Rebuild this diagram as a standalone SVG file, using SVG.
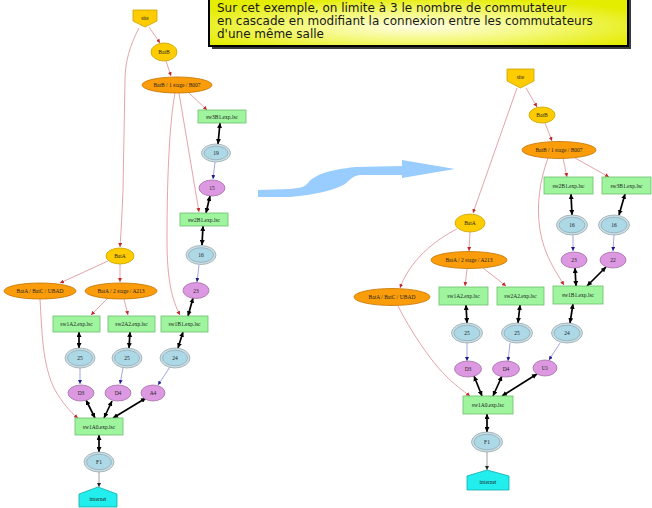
<svg xmlns="http://www.w3.org/2000/svg" width="652" height="508" viewBox="0 0 652 508">
<defs>
<radialGradient id="boxg" cx="50%" cy="60%" r="60%" fx="50%" fy="60%">
<stop offset="0" stop-color="#ffffe6"/>
<stop offset="0.5" stop-color="#f4f87a"/>
<stop offset="1" stop-color="#e4ec00"/>
</radialGradient>
<marker id="mr" viewBox="0 0 10 10" refX="10" refY="5" markerWidth="4" markerHeight="4" markerUnits="userSpaceOnUse" orient="auto"><path d="M0,0L10,5L0,10z" fill="#c02828"/></marker>
<marker id="mb" viewBox="0 0 10 10" refX="10" refY="5" markerWidth="4" markerHeight="4" markerUnits="userSpaceOnUse" orient="auto"><path d="M0,0L10,5L0,10z" fill="#1a1a90"/></marker>
<marker id="mk" viewBox="0 0 10 10" refX="10" refY="5" markerWidth="5" markerHeight="5" markerUnits="userSpaceOnUse" orient="auto-start-reverse"><path d="M0,0L10,5L0,10z" fill="#000"/></marker>
<marker id="mg" viewBox="0 0 10 10" refX="10" refY="5" markerWidth="4" markerHeight="4" markerUnits="userSpaceOnUse" orient="auto"><path d="M0,0L10,5L0,10z" fill="#222"/></marker>
</defs>
<style>
.pk{fill:none;stroke:#e09aa0;stroke-width:0.9;marker-end:url(#mr)}
.bl{fill:none;stroke:#8c8cdc;stroke-width:0.8;marker-end:url(#mb)}
.bk{fill:none;stroke:#000;stroke-width:1.7;marker-end:url(#mk);marker-start:url(#mk)}
.gy{fill:none;stroke:#888;stroke-width:0.8;marker-end:url(#mg)}
.yel{fill:#ffcc00;stroke:#c9a200;stroke-width:0.8}
.org{fill:#fb9d0a;stroke:#c47400;stroke-width:0.8}
.grn{fill:#9ef59e;stroke:#6cbf6c;stroke-width:0.8}
.bo{fill:#c9dfe8;stroke:#9aa;stroke-width:0.8}
.bi{fill:#add8e6;stroke:#8a9aa6;stroke-width:0.6}
.pur{fill:#dc98e0;stroke:#a472a8;stroke-width:0.8}
.cy{fill:#22eeee;stroke:#11aaaa;stroke-width:0.8}
.t{font-family:"Liberation Serif",serif;font-size:5.5px;fill:#222;text-anchor:middle;dominant-baseline:central}
.note{font-family:"DejaVu Sans",sans-serif;font-size:12px;fill:#1a1a1a}
</style>
<rect width="652" height="508" fill="#fff"/>

<g id="note">
<rect x="212" y="0" width="419" height="49" fill="#3a3a3a"/>
<rect x="209" y="-3" width="419" height="49" fill="url(#boxg)" stroke="#000" stroke-width="2"/>
<text class="note" x="217" y="12">Sur cet exemple, on limite à 3 le nombre de commutateur</text>
<text class="note" x="217" y="25">en cascade en modifiant la connexion entre les commutateurs</text>
<text class="note" x="217" y="38">d'une même salle</text>
</g>

<g id="bigarrow">
<path d="M258,190 L290,189 C300,188 305,187 308,183 C315,174 330,170 355,167 L402,166 L402,160 L455,169 L402,178 L402,175 L360,175 C352,176 350,180 345,184 C335,190 315,195 290,197 L258,197 Z" fill="#99ccff"/>
</g>

<g id="connectors">
<path class="pk" d="M139,28 C130,45 125,62 125,80 L123,190 C122,215 121,232 120,247"/>
<path class="pk" d="M149,27 L160,43"/>
<path class="pk" d="M166,61 L171,76"/>
<path class="pk" d="M188,92 L207,110"/>
<path class="pk" d="M179,93 L199,212"/>
<path class="pk" d="M175,93 C170,120 167,170 167,240 C167,280 172,300 180,315"/>
<path class="pk" d="M108,261 L60,283"/>
<path class="pk" d="M120,264 L120,282"/>
<path class="pk" d="M108,298 L91,315"/>
<path class="pk" d="M124,299 L128,315"/>
<path class="pk" d="M40,299 C42,330 42,365 55,390 C62,402 70,412 78,418"/>
<path class="bl" d="M215,162 L213,179"/>
<path class="bl" d="M199,265 L197,282"/>
<path class="bl" d="M170,367 L158,385"/>
<path class="bl" d="M80,368 L80,384"/>
<path class="bl" d="M123,368 L120,384"/>
<path class="bk" d="M220,123 L218,144"/>
<path class="bk" d="M210,196 L206,213"/>
<path class="bk" d="M203,226 L202,245"/>
<path class="bk" d="M193,298 L188,316"/>
<path class="bk" d="M183,332 L178,348"/>
<path class="bk" d="M79,332 L79,348"/>
<path class="bk" d="M130,332 L129,348"/>
<path class="bk" d="M86,400 L95,418"/>
<path class="bk" d="M112,401 L104,418"/>
<path class="bk" d="M146,398 L113,418"/>
<path class="bk" d="M99,435 L99,452"/>
<path class="gy" d="M99,472 L99,487"/>

<path class="pk" d="M517,88 L473,213"/>
<path class="pk" d="M526,88 L537,107"/>
<path class="pk" d="M545,123 L552,141"/>
<path class="pk" d="M563,158 L567,177"/>
<path class="pk" d="M575,158 L609,177"/>
<path class="pk" d="M548,158 C540,180 536,205 540,230 C544,255 556,272 564,285"/>
<path class="pk" d="M470,232 L469,251"/>
<path class="pk" d="M457,229 C435,240 410,260 400,288"/>
<path class="pk" d="M467,269 L465,286"/>
<path class="pk" d="M483,268 L506,286"/>
<path class="pk" d="M398,306 C410,330 430,360 445,375 C455,385 462,390 470,396"/>
<path class="bl" d="M573,235 L573,251"/>
<path class="bl" d="M614,235 L613,251"/>
<path class="bl" d="M467,343 L467,361"/>
<path class="bl" d="M510,343 L508,361"/>
<path class="bl" d="M560,343 L549,360"/>
<path class="bk" d="M571,194 L572,215"/>
<path class="bk" d="M625,194 L619,215"/>
<path class="bk" d="M575,268 L576,286"/>
<path class="bk" d="M606,267 L587,286"/>
<path class="bk" d="M573,304 L570,323"/>
<path class="bk" d="M466,305 L467,323"/>
<path class="bk" d="M520,305 L518,323"/>
<path class="bk" d="M474,376 L482,396"/>
<path class="bk" d="M502,376 L493,396"/>
<path class="bk" d="M537,374 L502,396"/>
<path class="bk" d="M487,414 L487,432"/>
<path class="gy" d="M487,452 L487,470"/>
</g>

<!-- Left graph -->
<g id="L_site"><polygon class="yel" points="133,10 157,10 157,21 145,27 133,21"/><text class="t" x="145" y="18">site</text></g>
<g id="L_BatB"><ellipse class="yel" cx="164" cy="52" rx="13" ry="9"/><text class="t" x="164" y="52">BatB</text></g>
<g id="L_BatB1"><ellipse class="org" cx="177" cy="85" rx="35" ry="8"/><text class="t" x="177" y="85">BatB / 1 stage / B007</text></g>
<g id="L_sw3B1"><rect class="grn" x="198" y="110" width="48" height="13"/><text class="t" x="222" y="116.5">sw3B1.exp.lsc</text></g>
<g id="L_19"><ellipse class="bo" cx="216" cy="153" rx="14.5" ry="9"/><ellipse class="bi" cx="216" cy="153" rx="12" ry="6.8"/><text class="t" x="216" y="153">19</text></g>
<g id="L_15"><ellipse class="pur" cx="212" cy="188" rx="13" ry="8"/><text class="t" x="212" y="188">15</text></g>
<g id="L_sw2B1"><rect class="grn" x="180" y="213" width="48" height="13"/><text class="t" x="204" y="219.5">sw2B1.exp.lsc</text></g>
<g id="L_16"><ellipse class="bo" cx="201" cy="255" rx="15" ry="9.5"/><ellipse class="bi" cx="201" cy="255" rx="12.5" ry="7.3"/><text class="t" x="201" y="255">16</text></g>
<g id="L_23"><ellipse class="pur" cx="196" cy="290.5" rx="13" ry="8"/><text class="t" x="196" y="290.5">23</text></g>
<g id="L_sw1B1"><rect class="grn" x="161" y="316" width="47" height="16"/><text class="t" x="184.5" y="324">sw1B1.exp.lsc</text></g>
<g id="L_24"><ellipse class="bo" cx="175" cy="358" rx="15" ry="10"/><ellipse class="bi" cx="175" cy="358" rx="12.5" ry="7.8"/><text class="t" x="175" y="358">24</text></g>
<g id="L_BatA"><ellipse class="yel" cx="120" cy="256" rx="14" ry="8"/><text class="t" x="120" y="256">BatA</text></g>
<g id="L_UBAD"><ellipse class="org" cx="40" cy="291" rx="36" ry="8"/><text class="t" x="40" y="291">BatA / BatC / UBAD</text></g>
<g id="L_BatA2"><ellipse class="org" cx="121" cy="291" rx="36" ry="8"/><text class="t" x="121" y="291">BatA / 2 stage / A213</text></g>
<g id="L_sw1A2"><rect class="grn" x="53" y="316" width="47" height="16"/><text class="t" x="76.5" y="324">sw1A2.exp.lsc</text></g>
<g id="L_sw2A2"><rect class="grn" x="108" y="316" width="47" height="16"/><text class="t" x="131.5" y="324">sw2A2.exp.lsc</text></g>
<g id="L_25a"><ellipse class="bo" cx="80" cy="358" rx="15" ry="10"/><ellipse class="bi" cx="80" cy="358" rx="12.5" ry="7.8"/><text class="t" x="80" y="358">25</text></g>
<g id="L_25b"><ellipse class="bo" cx="127" cy="358" rx="15" ry="10"/><ellipse class="bi" cx="127" cy="358" rx="12.5" ry="7.8"/><text class="t" x="127" y="358">25</text></g>
<g id="L_D3"><ellipse class="pur" cx="81" cy="393" rx="13" ry="8"/><text class="t" x="81" y="393">D3</text></g>
<g id="L_D4"><ellipse class="pur" cx="118" cy="393" rx="13" ry="8"/><text class="t" x="118" y="393">D4</text></g>
<g id="L_A4"><ellipse class="pur" cx="153" cy="393" rx="12" ry="8"/><text class="t" x="153" y="393">A4</text></g>
<g id="L_sw1A0"><rect class="grn" x="75" y="418" width="48" height="17"/><text class="t" x="99" y="426.5">sw1A0.exp.lsc</text></g>
<g id="L_F1"><ellipse class="bo" cx="99" cy="462" rx="15" ry="10"/><ellipse class="bi" cx="99" cy="462" rx="12.5" ry="7.8"/><text class="t" x="99" y="462">F1</text></g>
<g id="L_internet"><polygon class="cy" points="79,507 79,494 98,487 117,494 117,507"/><text class="t" x="98" y="499">internet</text></g>

<!-- Right graph -->
<g id="R_site"><polygon class="yel" points="507,69 534,69 534,81 520.5,88 507,81"/><text class="t" x="520.5" y="77">site</text></g>
<g id="R_BatB"><ellipse class="yel" cx="542" cy="115" rx="13" ry="8"/><text class="t" x="542" y="115">BatB</text></g>
<g id="R_BatB1"><ellipse class="org" cx="559" cy="150" rx="37" ry="8.5"/><text class="t" x="559" y="150">BatB / 1 stage / B007</text></g>
<g id="R_sw2B1"><rect class="grn" x="544" y="177" width="49" height="17"/><text class="t" x="568.5" y="185.5">sw2B1.exp.lsc</text></g>
<g id="R_sw3B1"><rect class="grn" x="602" y="177" width="49" height="17"/><text class="t" x="626.5" y="185.5">sw3B1.exp.lsc</text></g>
<g id="R_16a"><ellipse class="bo" cx="572" cy="225" rx="15.5" ry="10"/><ellipse class="bi" cx="572" cy="225" rx="13" ry="7.8"/><text class="t" x="572" y="225">16</text></g>
<g id="R_16b"><ellipse class="bo" cx="614" cy="225" rx="15.5" ry="10"/><ellipse class="bi" cx="614" cy="225" rx="13" ry="7.8"/><text class="t" x="614" y="225">16</text></g>
<g id="R_23"><ellipse class="pur" cx="574" cy="260" rx="13" ry="8"/><text class="t" x="574" y="260">23</text></g>
<g id="R_22"><ellipse class="pur" cx="613" cy="260" rx="13" ry="8"/><text class="t" x="613" y="260">22</text></g>
<g id="R_sw1B1"><rect class="grn" x="553" y="286" width="50" height="18"/><text class="t" x="578" y="295">sw1B1.exp.lsc</text></g>
<g id="R_24"><ellipse class="bo" cx="567" cy="333" rx="15.5" ry="10"/><ellipse class="bi" cx="567" cy="333" rx="13" ry="7.8"/><text class="t" x="567" y="333">24</text></g>
<g id="R_BatA"><ellipse class="yel" cx="470" cy="223" rx="15" ry="9"/><text class="t" x="470" y="223">BatA</text></g>
<g id="R_BatA2"><ellipse class="org" cx="469" cy="260" rx="38" ry="8.5"/><text class="t" x="469" y="260">BatA / 2 stage / A213</text></g>
<g id="R_UBAD"><ellipse class="org" cx="392" cy="297" rx="38" ry="8.5"/><text class="t" x="392" y="297">BatA / BatC / UBAD</text></g>
<g id="R_sw1A2"><rect class="grn" x="439" y="287" width="49" height="18"/><text class="t" x="463.5" y="296">sw1A2.exp.lsc</text></g>
<g id="R_sw2A2"><rect class="grn" x="497" y="287" width="47" height="18"/><text class="t" x="520.5" y="296">sw2A2.exp.lsc</text></g>
<g id="R_25a"><ellipse class="bo" cx="467" cy="333" rx="15.5" ry="10"/><ellipse class="bi" cx="467" cy="333" rx="13" ry="7.8"/><text class="t" x="467" y="333">25</text></g>
<g id="R_25b"><ellipse class="bo" cx="517" cy="333" rx="15.5" ry="10"/><ellipse class="bi" cx="517" cy="333" rx="13" ry="7.8"/><text class="t" x="517" y="333">25</text></g>
<g id="R_D3"><ellipse class="pur" cx="468" cy="369" rx="13.5" ry="8"/><text class="t" x="468" y="369">D3</text></g>
<g id="R_D4"><ellipse class="pur" cx="506" cy="369" rx="13.5" ry="8"/><text class="t" x="506" y="369">D4</text></g>
<g id="R_U1"><ellipse class="pur" cx="545" cy="368" rx="12" ry="8"/><text class="t" x="545" y="368">U1</text></g>
<g id="R_sw1A0"><rect class="grn" x="463" y="396" width="50" height="18"/><text class="t" x="488" y="405">sw1A0.exp.lsc</text></g>
<g id="R_F1"><ellipse class="bo" cx="487" cy="442" rx="15.5" ry="10"/><ellipse class="bi" cx="487" cy="442" rx="13" ry="7.8"/><text class="t" x="487" y="442">F1</text></g>
<g id="R_internet"><polygon class="cy" points="467,490 467,476 487,470 509,476 509,490"/><text class="t" x="488" y="482">internet</text></g>
</svg>
